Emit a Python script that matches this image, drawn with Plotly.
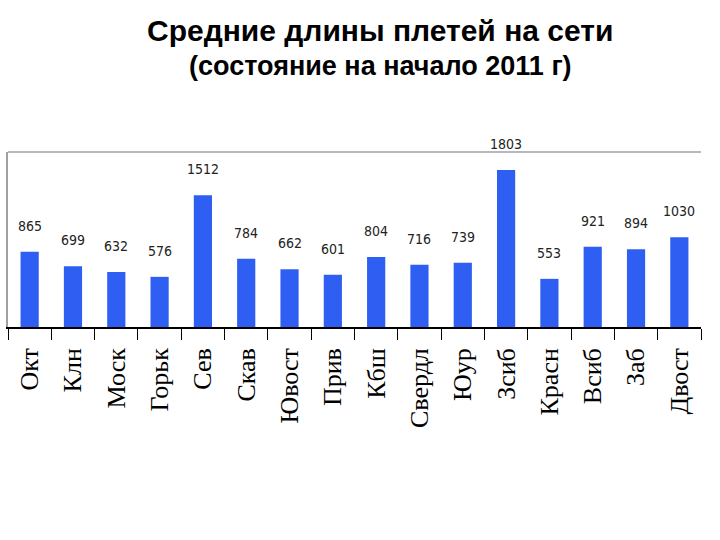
import plotly.graph_objects as go

categories = ["Окт", "Клн", "Моск", "Горьк", "Сев", "Скав", "Ювост", "Прив",
              "Кбш", "Свердл", "Юур", "Зсиб", "Красн", "Всиб", "Заб", "Двост"]
values = [865, 699, 632, 576, 1512, 784, 662, 601, 804, 716, 739, 1803, 553, 921, 894, 1030]

fig = go.Figure()
fig.add_trace(go.Bar(x=categories, y=values, marker=dict(color="#2F5FF2", line=dict(width=0)),
                     hoverinfo="skip"))

for c, v in zip(categories, values):
    fig.add_annotation(x=c, y=v, text=str(v), showarrow=False, yshift=26, yanchor="middle",
                       font=dict(family="DejaVu Sans Condensed, Liberation Sans Narrow, sans-serif",
                                 size=14, color="#222222"))

fig.add_shape(type="line", xref="paper", yref="paper", x0=0, x1=1, y0=1, y1=1,
              line=dict(color="#A0A0A0", width=1.5))

fig.update_layout(
    width=720, height=540,
    margin=dict(l=8, r=19, t=152, b=213),
    paper_bgcolor="white", plot_bgcolor="white",
    bargap=0.58,
    showlegend=False,
    annotations=list(fig.layout.annotations) + [
        dict(text="<b>Средние длины плетей на сети</b>", xref="paper", yref="paper",
             x=0.537, y=1, yanchor="middle", yshift=122, showarrow=False,
             font=dict(family="Liberation Sans, Arial, sans-serif", size=30, color="black")),
        dict(text="<b>(состояние на начало 2011 г)</b>", xref="paper", yref="paper",
             x=0.537, y=1, yanchor="middle", yshift=86, showarrow=False,
             font=dict(family="Liberation Sans, Arial, sans-serif", size=27, color="black")),
    ],
)
fig.update_xaxes(type="category", tickangle=-90, ticks="outside", tickson="boundaries",
                 ticklen=11, tickcolor="black", showline=True, linecolor="black", linewidth=1.5,
                 ticklabelstandoff=9,
                 tickfont=dict(family="Liberation Serif, Times New Roman, serif", size=26, color="black"),
                 showgrid=False)
fig.update_yaxes(range=[0, 2010], showticklabels=False, ticks="", showgrid=False,
                 showline=True, linecolor="#A0A0A0", linewidth=1.5, zeroline=False)

fig.write_html("out.html")
